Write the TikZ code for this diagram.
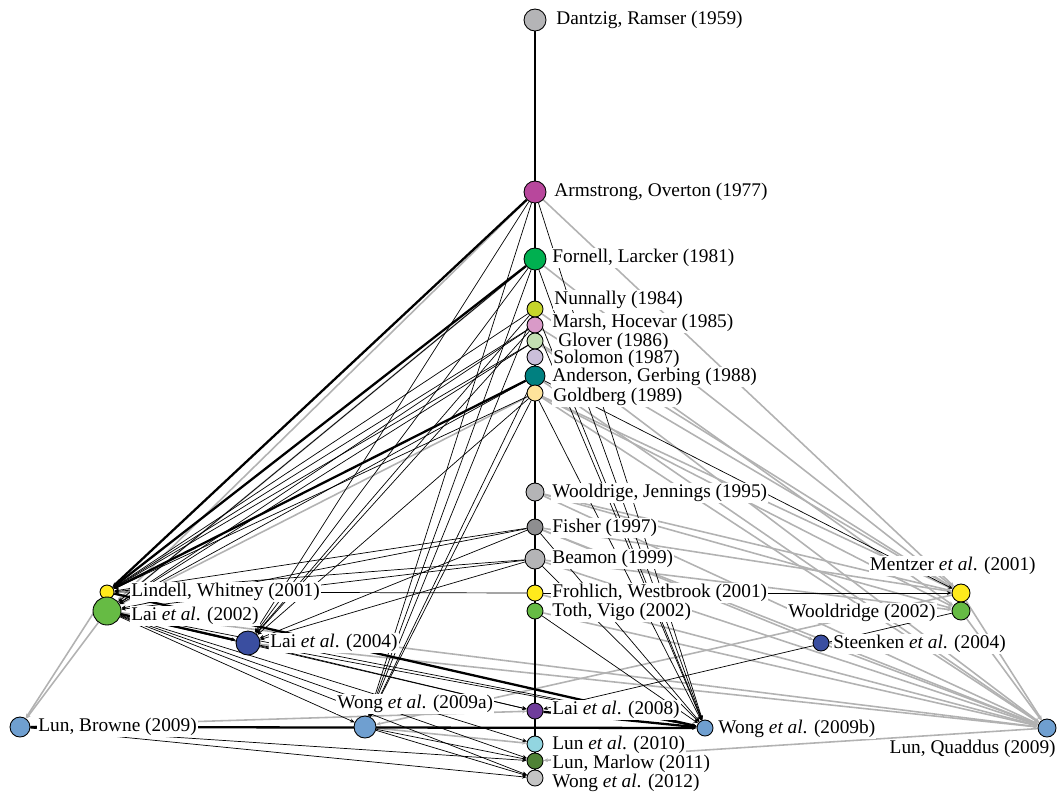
\documentclass[tikz,border=0pt]{standalone}
\usepackage{fontspec}
\setmainfont{Liberation Serif}
\usetikzlibrary{backgrounds,arrows.meta}
\definecolor{cgray}{HTML}{B4B4B6}
\definecolor{cdark}{HTML}{8E8E90}
\definecolor{cmag}{HTML}{B8479C}
\definecolor{cfor}{HTML}{00B050}
\definecolor{cnun}{HTML}{C6D52B}
\definecolor{cpink}{HTML}{D99AC8}
\definecolor{cmint}{HTML}{C3DFB2}
\definecolor{clav}{HTML}{CBBFDA}
\definecolor{cteal}{HTML}{008080}
\definecolor{ccream}{HTML}{FDE39B}
\definecolor{cyel}{HTML}{FFEA1C}
\definecolor{cgreen}{HTML}{66BB44}
\definecolor{cblue}{HTML}{3A4EA0}
\definecolor{cpurp}{HTML}{6F3C9B}
\definecolor{ccyan}{HTML}{92D5E0}
\definecolor{colive}{HTML}{4F8235}
\definecolor{clight}{HTML}{C4C4C4}
\definecolor{csteel}{HTML}{6F9FD0}

\begin{document}
\begin{tikzpicture}[x=0.02cm,y=-0.02cm,>={Stealth[length=2.6pt,width=2.2pt]},
  paper/.style={circle,draw=black,line width=0.5pt,inner sep=0pt,minimum size=0.32cm},
  lbl/.style={fill=white,inner sep=0.6pt,anchor=west,font=\fontsize{11}{12}\selectfont},
  cite/.style={->,black,line width=0.4pt},
  heavy/.style={->,black,line width=1.3pt},
  other/.style={->,black!30,line width=0.9pt}]

\useasboundingbox (0,0) rectangle (1058,795);

% papers on the spine
\node[paper,fill=cgray,minimum size=0.44cm] (dantzig) at (535,20) {};
\node[paper,fill=cmag,minimum size=0.44cm] (armstrong) at (535,192) {};
\node[paper,fill=cfor,minimum size=0.44cm] (fornell) at (535,259) {};
\node[paper,fill=cnun] (nunnally) at (535,309) {};
\node[paper,fill=cpink] (marsh) at (535,325) {};
\node[paper,fill=cmint] (glover) at (535,341) {};
\node[paper,fill=clav] (solomon) at (535,357) {};
\node[paper,fill=cteal,minimum size=0.4cm] (anderson) at (535,376) {};
\node[paper,fill=ccream] (goldberg) at (535,393) {};
\node[paper,fill=cgray,minimum size=0.36cm] (jennings) at (535,492) {};
\node[paper,fill=cdark] (fisher) at (535,527) {};
\node[paper,fill=cgray,minimum size=0.4cm] (beamon) at (535,559) {};
\node[paper,fill=cyel] (frohlich) at (535,593) {};
\node[paper,fill=cgreen] (toth) at (535,611) {};
\node[paper,fill=cpurp] (laiC) at (535,711) {};
\node[paper,fill=ccyan] (lunC) at (535,744) {};
\node[paper,fill=colive] (marlow) at (535,761) {};
\node[paper,fill=clight] (wongC) at (535,778) {};

% papers off the spine
\node[paper,fill=cyel,minimum size=0.28cm] (lindell) at (107,592) {};
\node[paper,fill=cgreen,minimum size=0.56cm] (laiA) at (107,611) {};
\node[paper,fill=cblue,minimum size=0.48cm] (laiB) at (248,643) {};
\node[paper,fill=csteel,minimum size=0.4cm] (lunbrowne) at (20,727) {};
\node[paper,fill=csteel,minimum size=0.44cm] (wongA) at (365,727) {};
\node[paper,fill=csteel] (wongB) at (705,728) {};
\node[paper,fill=cyel,minimum size=0.36cm] (mentzer) at (961,593) {};
\node[paper,fill=cgreen,minimum size=0.36cm] (wooldridge) at (961,611) {};
\node[paper,fill=cblue] (steenken) at (821,643) {};
\node[paper,fill=csteel,minimum size=0.36cm] (quaddus) at (1047,728) {};

% labels
\node[lbl] (tdantzig) at (555,20) {Dantzig, Ramser (1959)};
\node[lbl] (tarmstrong) at (553,192) {Armstrong, Overton (1977)};
\node[lbl] (tfornell) at (551,258) {Fornell, Larcker (1981)};
\node[lbl] (tnunnally) at (553,300) {Nunnally (1984)};
\node[lbl] (tmarsh) at (551,323) {Marsh, Hocevar (1985)};
\node[lbl] (tglover) at (557,342) {Glover (1986)};
\node[lbl] (tsolomon) at (552,359) {Solomon (1987)};
\node[lbl] (tanderson) at (551,377) {Anderson, Gerbing (1988)};
\node[lbl] (tgoldberg) at (552,397) {Goldberg (1989)};
\node[lbl] (tjennings) at (551,493) {Wooldrige, Jennings (1995)};
\node[lbl] (tfisher) at (551,528) {Fisher (1997)};
\node[lbl] (tbeamon) at (551,559) {Beamon (1999)};
\node[lbl] (tfrohlich) at (551,593) {Frohlich, Westbrook (2001)};
\node[lbl] (ttoth) at (551,612) {Toth, Vigo (2002)};
\node[lbl] (tlaiC) at (551,710) {Lai \textit{et al}. (2008)};
\node[lbl] (tlunC) at (551,745) {Lun \textit{et al}. (2010)};
\node[lbl] (tmarlow) at (551,764) {Lun, Marlow (2011)};
\node[lbl] (twongC) at (551,783) {Wong \textit{et al}. (2012)};
\node[lbl] (tlindell) at (130,592) {Lindell, Whitney (2001)};
\node[lbl] (tlaiA) at (130,616) {Lai \textit{et al}. (2002)};
\node[lbl] (tlaiB) at (269,643) {Lai \textit{et al}. (2004)};
\node[lbl] (tlunbrowne) at (37,727) {Lun, Browne (2009)};
\node[lbl] (twongA) at (336,704) {Wong \textit{et al}. (2009a)};
\node[lbl] (twongB) at (717,729) {Wong \textit{et al}. (2009b)};
\node[lbl,anchor=east] (tmentzer) at (1037,566) {Mentzer \textit{et al}. (2001)};
\node[lbl,anchor=east] (twooldridge) at (937,613) {Wooldridge (2002)};
\node[lbl] (tsteenken) at (832,644) {Steenken \textit{et al}. (2004)};
\node[lbl,anchor=east] (tquaddus) at (1057,749) {Lun, Quaddus (2009)};

\begin{pgfonlayer}{background}
% grey citations
\foreach \a/\b in {armstrong/laiA,armstrong/mentzer,fornell/laiA,fornell/mentzer,
  nunnally/wooldridge,marsh/mentzer,glover/mentzer,glover/quaddus,anderson/quaddus,
  goldberg/laiA,goldberg/mentzer,goldberg/wooldridge,goldberg/quaddus,
  jennings/mentzer,jennings/wooldridge,jennings/quaddus,fisher/mentzer,
  fisher/steenken,fisher/quaddus,beamon/wooldridge,beamon/quaddus,toth/quaddus,
  frohlich/quaddus,lindell/lunbrowne,laiA/lunbrowne,laiA/quaddus,laiB/quaddus,
  mentzer/quaddus,wooldridge/quaddus,steenken/quaddus,mentzer/wongA,wongA/lunC,
  lunbrowne/laiC,quaddus/marlow}
  \draw[other] (\a) -- (\b);
% spine
\foreach \a/\b in {dantzig/armstrong,armstrong/fornell,fornell/nunnally,
  nunnally/marsh,marsh/glover,glover/solomon,solomon/anderson,anderson/goldberg,
  goldberg/jennings,jennings/fisher,fisher/beamon,beamon/frohlich,frohlich/toth,
  toth/laiC,laiC/lunC,lunC/marlow,marlow/wongC}
  \draw[black,line width=0.9pt] (\a) -- (\b);
% black citations
\foreach \a/\b in {armstrong/laiB,armstrong/wongA,armstrong/wongB,
  fornell/laiA,fornell/laiB,fornell/wongA,fornell/wongB,
  nunnally/lindell,nunnally/laiB,nunnally/wongA,nunnally/wongB,
  marsh/lindell,marsh/laiA,marsh/laiB,marsh/wongB,glover/lindell,glover/laiA,
  anderson/laiA,anderson/wongA,anderson/mentzer,
  goldberg/lindell,goldberg/laiB,goldberg/wongA,goldberg/wongB,
  fisher/lindell,fisher/laiA,fisher/laiB,fisher/wongB,
  beamon/lindell,beamon/laiA,beamon/laiB,beamon/wongB,
  frohlich/lindell,frohlich/mentzer,toth/wongB,
  laiA/wongA,laiA/lunC,laiA/marlow,laiA/wongC,laiA/laiC,laiA/wongB,
  laiB/laiC,laiB/wongB,wooldridge/laiC,
  lunbrowne/marlow,lunbrowne/wongC,wongA/marlow,wongA/wongC}
  \draw[cite] (\a) -- (\b);
% strong ties
\foreach \a/\b in {armstrong/lindell,fornell/lindell,anderson/lindell,
  laiA/laiB,lindell/wongB,lunbrowne/wongB,laiC/wongB}
  \draw[heavy] (\a) -- (\b);
\end{pgfonlayer}
\end{tikzpicture}
\end{document}
